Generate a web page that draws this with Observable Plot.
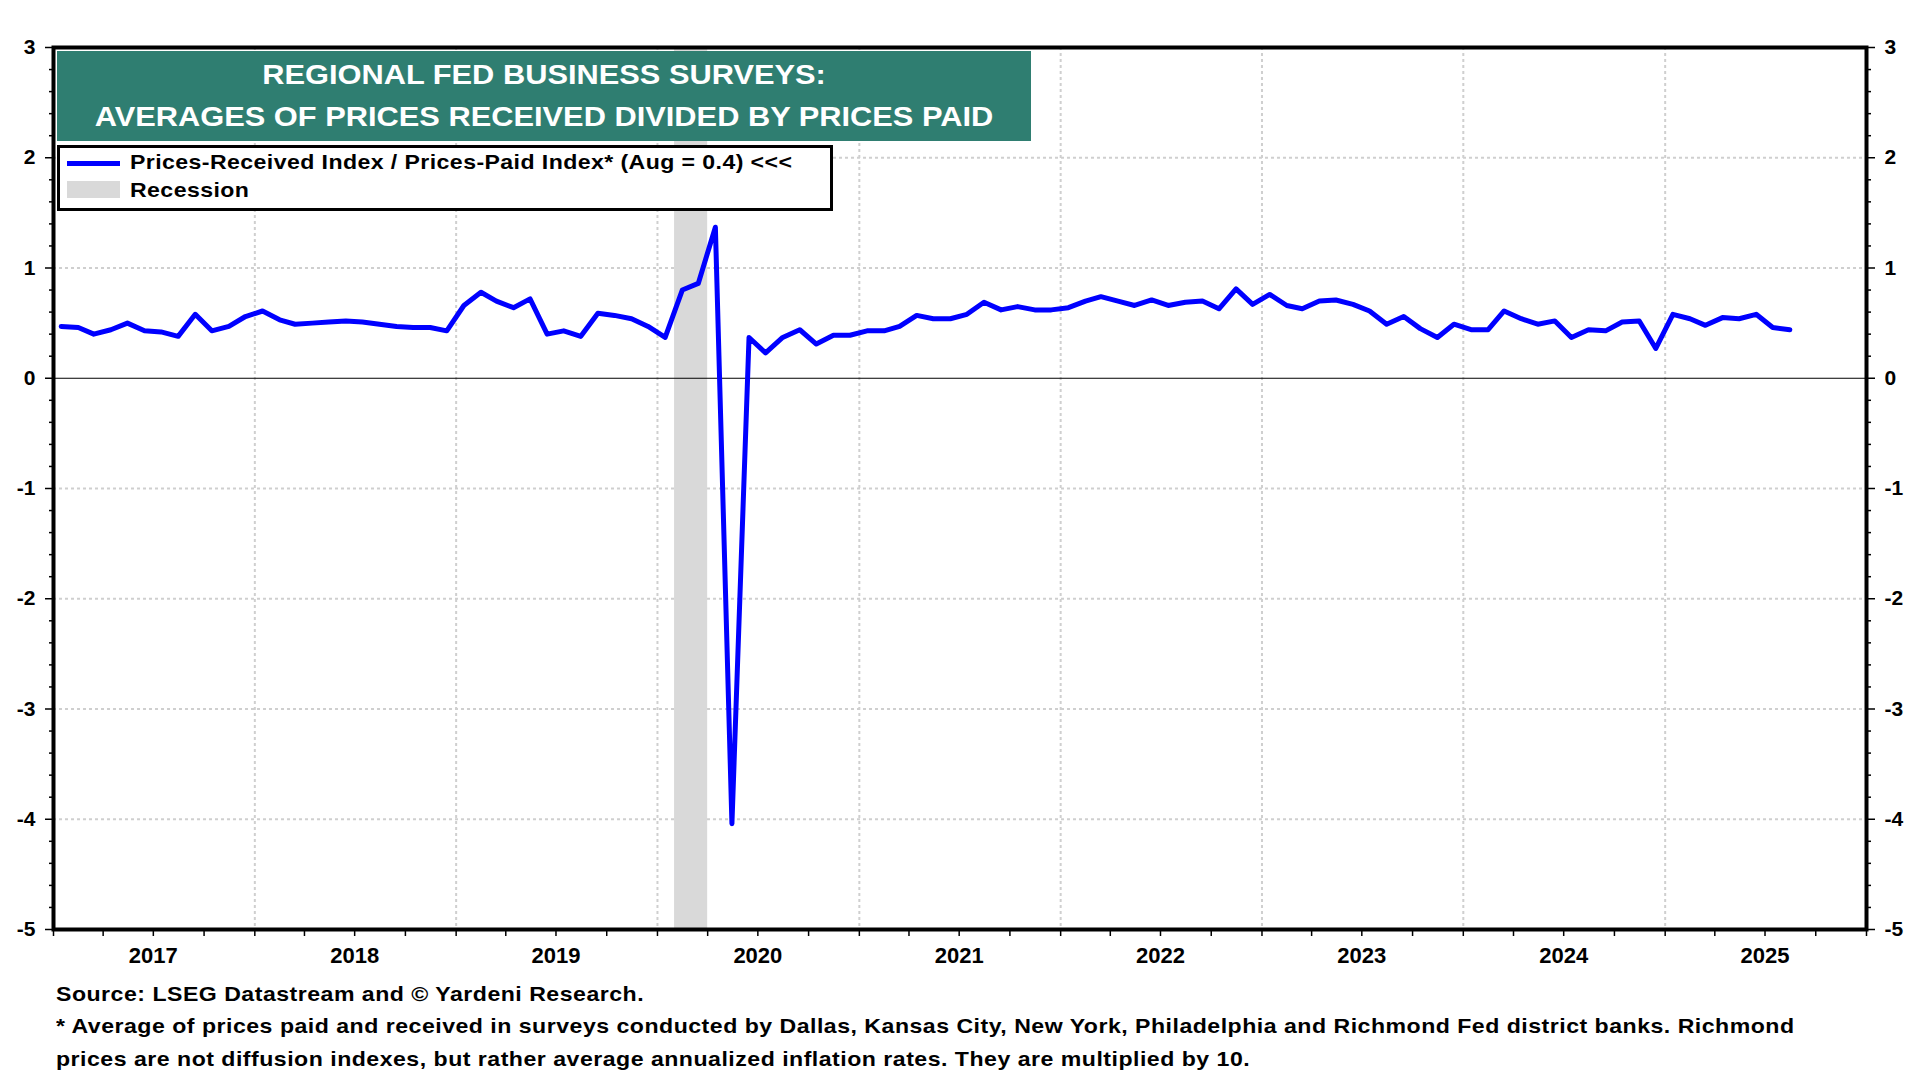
<!DOCTYPE html>
<html>
<head>
<meta charset="utf-8">
<script src="https://cdn.jsdelivr.net/npm/d3@7"></script>
<script src="https://cdn.jsdelivr.net/npm/@observablehq/plot@0.6"></script>
<style>
  html, body { margin: 0; padding: 0; background: #fff; }
  #wrap { position: relative; width: 1920px; height: 1080px; overflow: hidden; background: #fff;
          font-family: "Liberation Sans", Arial, sans-serif; font-weight: bold; }
  #chart { position: absolute; left: 0; top: 0; }
  #titlebox { position: absolute; left: 57px; top: 51px; width: 974px; height: 90px; background: #2f7e71; }
  .tline { position: absolute; left: 0; width: 974px; text-align: center; color: #fff; font-size: 28px; line-height: 28px; white-space: nowrap; transform: scaleX(1.1); transform-origin: 50% 50%; }
  #legend { position: absolute; left: 57px; top: 145px; width: 770px; height: 60px; background: #fff; border: 3px solid #000; }
  .ltext { position: absolute; font-size: 21px; line-height: 21px; color: #000; letter-spacing: 0.38px; white-space: nowrap; transform: scaleX(1.1); transform-origin: 0 50%; }
  .foot { position: absolute; left: 56px; font-size: 21px; line-height: 21px; color: #000; letter-spacing: 0.45px; white-space: nowrap; transform: scaleX(1.1); transform-origin: 0 50%; }
</style>
</head>
<body>
<div id="wrap">
  <div id="chart"></div>
  <div id="titlebox">
    <div class="tline" style="top:10px">REGIONAL FED BUSINESS SURVEYS:</div>
    <div class="tline" style="top:52px">AVERAGES OF PRICES RECEIVED DIVIDED BY PRICES PAID</div>
  </div>
  <div id="legend">
    <div style="position:absolute; left:7px; top:13px; width:53px; height:5px; background:#0000ff;"></div>
    <div style="position:absolute; left:7px; top:33px; width:53px; height:17px; background:#d9d9d9;"></div>
    <div class="ltext" style="left:70px; top:3px;">Prices-Received Index / Prices-Paid Index* (Aug = 0.4) &lt;&lt;&lt;</div>
    <div class="ltext" style="left:70px; top:31px;">Recession</div>
  </div>
  <div class="foot" style="top:983px">Source: LSEG Datastream and © Yardeni Research.</div>
  <div class="foot" style="top:1015px">* Average of prices paid and received in surveys conducted by Dallas, Kansas City, New York, Philadelphia and Richmond Fed district banks. Richmond</div>
  <div class="foot" style="top:1048px">prices are not diffusion indexes, but rather average annualized inflation rates. They are multiplied by 10.</div>
</div>
<script>
// Monthly values (Prices-Received Index / Prices-Paid Index), Jan..Dec of each year
const y2017 = [0.47, 0.46, 0.40, 0.44, 0.50, 0.43, 0.42, 0.38, 0.58, 0.43, 0.47, 0.56];
const y2018 = [0.61, 0.53, 0.49, 0.50, 0.51, 0.52, 0.51, 0.49, 0.47, 0.46, 0.46, 0.43];
const y2019 = [0.66, 0.78, 0.70, 0.64, 0.72, 0.40, 0.43, 0.38, 0.59, 0.57, 0.54, 0.47];
const y2020 = [0.37, 0.80, 0.86, 1.37, -4.04, 0.37, 0.23, 0.37, 0.44, 0.31, 0.39, 0.39];
const y2021 = [0.43, 0.43, 0.47, 0.57, 0.54, 0.54, 0.58, 0.69, 0.62, 0.65, 0.62, 0.62];
const y2022 = [0.64, 0.70, 0.74, 0.70, 0.66, 0.71, 0.66, 0.69, 0.70, 0.63, 0.81, 0.67];
const y2023 = [0.76, 0.66, 0.63, 0.70, 0.71, 0.67, 0.61, 0.49, 0.56, 0.45, 0.37, 0.49];
const y2024 = [0.44, 0.44, 0.61, 0.54, 0.49, 0.52, 0.37, 0.44, 0.43, 0.51, 0.52, 0.27];
const y2025 = [0.58, 0.54, 0.48, 0.55, 0.54, 0.58, 0.46, 0.44];

const years = [2017, 2018, 2019, 2020, 2021, 2022, 2023, 2024, 2025];
const yearSeries = [y2017, y2018, y2019, y2020, y2021, y2022, y2023, y2024, y2025];

const recessionStart = "2020-02-01";
const recessionEnd = "2020-04-01";

const yTicks = [-5, -4, -3, -2, -1, 0, 1, 2, 3];
const yGrid = [-4, -3, -2, -1, 1, 2];
const xDomain = ["2017-01-01", "2026-01-01"];

// build table
const data = [];
years.forEach((yr, k) => {
  yearSeries[k].forEach((v, m) => data.push({date: new Date(Date.UTC(yr, m, 15)), value: v}));
});

const x0 = new Date(xDomain[0]), x1 = new Date(xDomain[1]);
const yearStarts = d3.utcYear.range(new Date("2018-01-01"), new Date("2025-12-31"));
const quarterTicks = d3.utcMonth.every(3).range(x0, new Date("2026-01-02"));
const midYears = years.map(yr => new Date(Date.UTC(yr, 6, 1)));
const minorY = d3.range(0, 41).map(i => -5 + i * 0.2).filter(v => Math.abs(v - Math.round(v)) > 1e-6);

const font = "Liberation Sans, Arial, sans-serif";

const chart = Plot.plot({
  width: 1920,
  height: 980,
  marginLeft: 53,
  marginRight: 54,
  marginTop: 47,
  marginBottom: 51,
  style: {fontFamily: font, fontWeight: "bold", background: "transparent", overflow: "visible", color: "#000"},
  x: {type: "utc", domain: [x0, x1], label: null},
  y: {domain: [-5, 3], label: null},
  marks: [
    Plot.ruleX(yearStarts, {stroke: "#cfcfcf", strokeWidth: 2, strokeDasharray: "3,3"}),
    Plot.ruleY(yGrid, {stroke: "#cfcfcf", strokeWidth: 2, strokeDasharray: "3,3"}),
    Plot.rect([{a: new Date(recessionStart), b: new Date(recessionEnd)}], {x1: "a", x2: "b", y1: -5, y2: 3, fill: "#d9d9d9"}),
    Plot.ruleY([0], {stroke: "#000", strokeWidth: 1}),
    Plot.line(data, {x: "date", y: "value", stroke: "#0000ff", strokeWidth: 5}),
    Plot.axisY(minorY, {anchor: "left", label: null, tickSize: 4, tickFormat: () => "", stroke: "#000", strokeWidth: 1.5}),
    Plot.axisY(minorY, {anchor: "right", label: null, tickSize: 4, tickFormat: () => "", stroke: "#000", strokeWidth: 1.5}),
    Plot.axisY(yTicks, {anchor: "left", label: null, tickSize: 8, tickPadding: 10, tickFormat: d => String(d), fontSize: 21, fontWeight: "bold", strokeWidth: 1.5}),
    Plot.axisY(yTicks, {anchor: "right", label: null, tickSize: 8, tickPadding: 10, tickFormat: d => String(d), fontSize: 21, fontWeight: "bold", strokeWidth: 1.5}),
    Plot.axisX(quarterTicks, {anchor: "bottom", label: null, tickSize: 7, tickFormat: () => "", strokeWidth: 1.5}),
    Plot.axisX(midYears, {anchor: "bottom", label: null, tickSize: 0, tickPadding: 18, tickFormat: d => String(d.getUTCFullYear()), fontSize: 22, fontWeight: "bold"}),
    Plot.frame({stroke: "#000", strokeWidth: 4})
  ]
});
document.getElementById("chart").appendChild(chart);
</script>
</body>
</html>
